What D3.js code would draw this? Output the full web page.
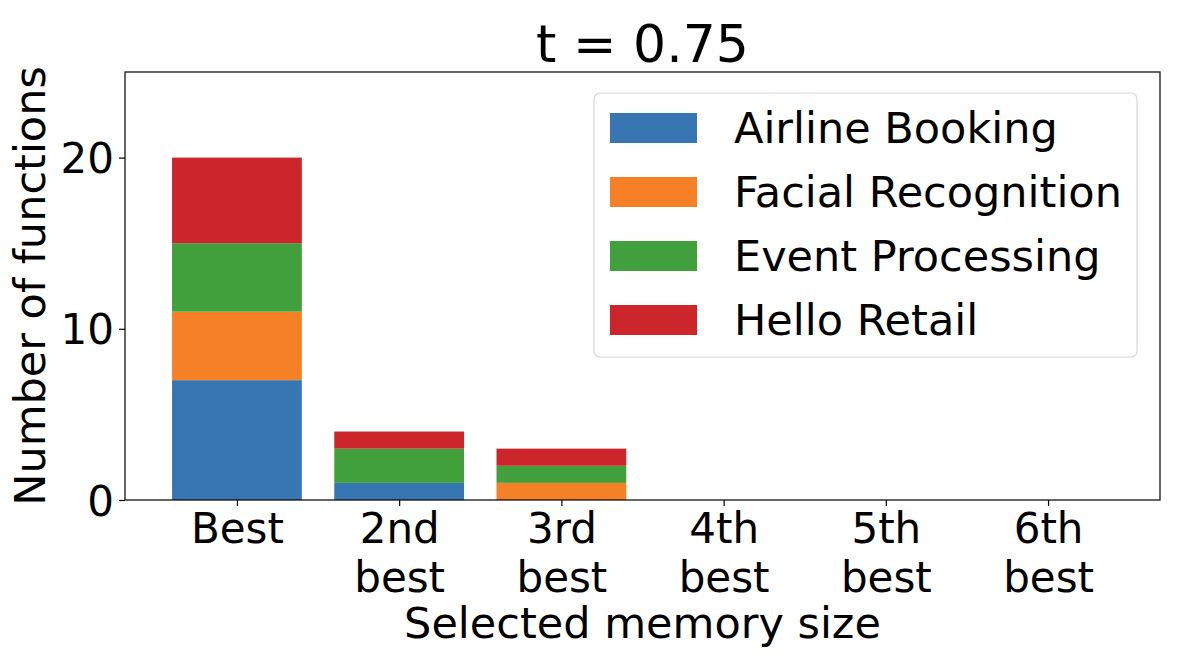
<!DOCTYPE html>
<html>
<head>
<meta charset="utf-8">
<script src="https://d3js.org/d3.v7.min.js"></script>
<style>
  body { margin: 0; background: #fff; }
  text { font-family: "DejaVu Sans", sans-serif; fill: #000; }
</style>
</head>
<body>
<script>
// data
var categories = ["Best", "2nd\nbest", "3rd\nbest", "4th\nbest", "5th\nbest", "6th\nbest"];
var seriesNames = ["Airline Booking", "Facial Recognition", "Event Processing", "Hello Retail"];
var airline = [7, 1, 0, 0, 0, 0];
var facial  = [4, 0, 1, 0, 0, 0];
var eventP  = [4, 2, 1, 0, 0, 0];
var hello   = [5, 1, 1, 0, 0, 0];
var colors = ["#3776b2", "#f58025", "#42a03c", "#cc252c"];
var yTicks = [0, 10, 20];

var width = 1200, height = 656;
var margin = {top: 72, right: 40, bottom: 156, left: 125};
var plotW = width - margin.left - margin.right,
    plotH = height - margin.top - margin.bottom;

var svg = d3.select("body").append("svg")
    .attr("width", width).attr("height", height);

var g = svg.append("g").attr("transform", "translate(" + margin.left + "," + margin.top + ")");

var x = d3.scaleLinear().domain([-0.69, categories.length - 1 + 0.69]).range([0, plotW]);
var y = d3.scaleLinear().domain([0, 25]).range([plotH, 0]);
var barW = x(0.8) - x(0);

// stacked rows
var rows = categories.map(function(c, i) {
    return {i: i, a: airline[i], f: facial[i], e: eventP[i], h: hello[i]};
});
var stack = d3.stack().keys(["a", "f", "e", "h"]);
var layers = stack(rows);

g.selectAll(".layer")
  .data(layers)
  .enter().append("g")
    .attr("fill", function(d, i) { return colors[i]; })
  .selectAll("rect")
  .data(function(d) { return d.filter(function(p) { return p[1] > p[0]; }); })
  .enter().append("rect")
    .attr("x", function(d) { return x(d.data.i) - barW / 2; })
    .attr("width", barW)
    .attr("y", function(d) { return y(d[1]); })
    .attr("height", function(d) { return y(d[0]) - y(d[1]); });

// frame
g.append("rect")
  .attr("width", plotW).attr("height", plotH)
  .attr("fill", "none").attr("stroke", "#000").attr("stroke-width", 1.2);

// y axis
var yAxis = g.append("g").call(d3.axisLeft(y).tickValues(yTicks).tickSize(6).tickPadding(5));
yAxis.select(".domain").remove();
yAxis.selectAll("text").style("font-size", "42px").attr("dy", "0.36em");
yAxis.selectAll("line").attr("stroke-width", 1.2);

// x axis
var xAxis = g.append("g").attr("transform", "translate(0," + plotH + ")")
  .call(d3.axisBottom(x).tickValues(d3.range(categories.length)).tickSize(6).tickFormat(""));
xAxis.select(".domain").remove();
xAxis.selectAll("line").attr("stroke-width", 1.2);

xAxis.selectAll(".tick").each(function(d) {
    var lines = categories[d].split("\n");
    var t = d3.select(this).append("text")
        .attr("text-anchor", "middle")
        .style("font-size", "42px");
    lines.forEach(function(l, k) {
        t.append("tspan").attr("x", 0).attr("y", 43 + k * 49).text(l);
    });
});

// labels
svg.append("text")
  .attr("x", margin.left + plotW / 2).attr("y", 638)
  .attr("text-anchor", "middle").style("font-size", "43px")
  .text("Selected memory size");

svg.append("text")
  .attr("transform", "translate(45," + (margin.top + plotH / 2) + ") rotate(-90)")
  .attr("text-anchor", "middle").style("font-size", "43px")
  .text("Number of functions");

svg.append("text")
  .attr("x", margin.left + plotW / 2).attr("y", 62)
  .attr("text-anchor", "middle").style("font-size", "52px")
  .text("t = 0.75");

// legend
var legend = svg.append("g").attr("transform", "translate(594,93)");
legend.append("rect")
  .attr("width", 543).attr("height", 264).attr("rx", 6)
  .attr("fill", "#fff").attr("fill-opacity", 0.8)
  .attr("stroke", "#d8d8d8").attr("stroke-width", 1.2);

var item = legend.selectAll(".item").data(seriesNames).enter().append("g")
  .attr("transform", function(d, i) { return "translate(16," + (20 + i * 64) + ")"; });
item.append("rect")
  .attr("width", 87).attr("height", 30)
  .attr("fill", function(d, i) { return colors[i]; });
item.append("text")
  .attr("x", 124).attr("y", 15).attr("dy", "0.35em")
  .style("font-size", "43px")
  .text(function(d) { return d; });
</script>
</body>
</html>
